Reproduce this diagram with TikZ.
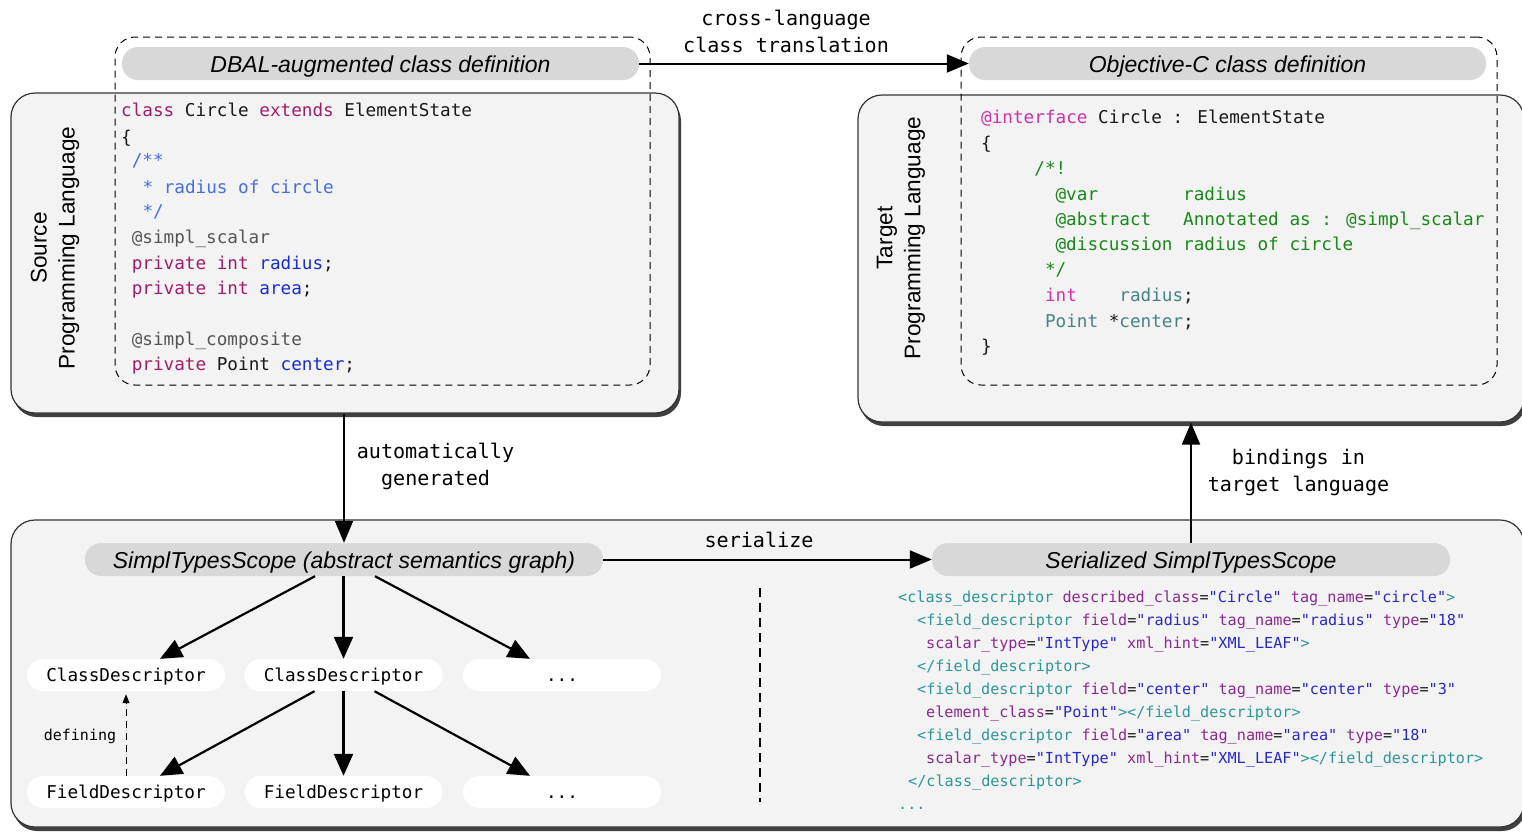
\documentclass[tikz,border=0pt]{standalone}
\usepackage{fontspec}
\setmainfont{Liberation Sans}
\newfontfamily\codefont{DejaVu Sans Mono}
\usetikzlibrary{shadows,arrows.meta}
\definecolor{boxfill}{HTML}{F3F3F3}
\definecolor{pillfill}{HTML}{D8D8D8}
\definecolor{kwc}{RGB}{160,30,105}
\definecolor{idc}{RGB}{25,45,205}
\definecolor{cmc}{RGB}{70,110,225}
\definecolor{anc}{RGB}{85,85,85}
\definecolor{mac}{RGB}{205,50,170}
\definecolor{grc}{RGB}{25,135,25}
\definecolor{tec}{RGB}{70,130,135}
\definecolor{tgc}{RGB}{45,150,150}
\definecolor{atc}{RGB}{140,40,145}
\definecolor{vac}{RGB}{40,40,195}
\newcommand{\cKw}[1]{\textcolor{kwc}{#1}}
\newcommand{\cId}[1]{\textcolor{idc}{#1}}
\newcommand{\cCm}[1]{\textcolor{cmc}{#1}}
\newcommand{\cAn}[1]{\textcolor{anc}{#1}}
\newcommand{\cMa}[1]{\textcolor{mac}{#1}}
\newcommand{\cGr}[1]{\textcolor{grc}{#1}}
\newcommand{\cTe}[1]{\textcolor{tec}{#1}}
\newcommand{\cTg}[1]{\textcolor{tgc}{#1}}
\newcommand{\cAt}[1]{\textcolor{atc}{#1}}
\newcommand{\cVa}[1]{\textcolor{vac}{#1}}
\begin{document}
\begin{tikzpicture}[x=1pt,y=-1pt,
  outerbox/.style={draw=black!80, line width=1.2pt, fill=boxfill, rounded corners=24pt,
    drop shadow={shadow xshift=2pt, shadow yshift=-4pt, opacity=0.75, fill=black}},
  dashbox/.style={draw=black, line width=1pt, dash pattern=on 7pt off 5pt, rounded corners=20pt},
  pill/.style={fill=pillfill, rounded corners=16pt, minimum width=517pt, minimum height=33pt,
    inner sep=0pt, text height=17pt, text depth=0pt, font=\fontsize{23}{27}\selectfont\itshape},
  wnode/.style={fill=white, rounded corners=16pt, minimum width=198pt, minimum height=32pt,
    inner sep=0pt, text height=14pt, text depth=1pt, font=\codefont\fontsize{17.66}{20}\selectfont},
  codeline/.style={anchor=west, inner sep=0pt, text height=14pt, text depth=1pt,
    font=\codefont\fontsize{17.66}{20}\selectfont, text=black!90},
  xmlline/.style={anchor=west, inner sep=0pt, text height=14pt, text depth=0.5pt,
    font=\codefont\fontsize{15.17}{18}\selectfont, text=black!90},
  lbl/.style={align=center, inner sep=0pt, font=\codefont\fontsize{20.1}{27}\selectfont},
  sidelbl/.style={rotate=90, align=center, inner sep=0pt, font=\fontsize{22.6}{28}\selectfont},
  bigarrow/.style={line width=2pt, -{Triangle[length=22pt,width=18pt]}},
  treearrow/.style={line width=2.2pt, -{Triangle[length=22pt,width=19pt]}}
]
\useasboundingbox (0,0) rectangle (1522,833);

% outer boxes
\node[outerbox, minimum width=668pt, minimum height=320pt] (src) at (345,253) {};
\node[outerbox, minimum width=666pt, minimum height=327pt] (tgt) at (1191,258.5) {};
\node[outerbox, minimum width=1513pt, minimum height=307pt] (bot) at (767.5,673.5) {};

% dashed boxes
\node[dashbox, minimum width=535pt, minimum height=348pt] (dsrc) at (382.5,211) {};
\node[dashbox, minimum width=536pt, minimum height=348pt] (dtgt) at (1229,211) {};

% pills
\node[pill] (dbal) at (380.5,63.5) {DBAL-augmented class definition};
\node[pill] (objc) at (1227.5,63.5) {Objective-C class definition};
\node[pill, minimum width=518pt] (sts) at (344,559.5) {SimplTypesScope (abstract semantics graph)};
\node[pill, minimum width=518pt] (ser) at (1191,559.5) {Serialized SimplTypesScope};

% side labels
\node[sidelbl] (srclbl) at (55,248) {Source\\Programming Language};
\node[sidelbl] (tgtlbl) at (901,238) {Target\\Programming Language};

% source code
\node[codeline] (s1) at (121,110) {\cKw{class} Circle \cKw{extends} ElementState};
\node[codeline] (s2) at (121,137) {\{};
\node[codeline] (s3) at (131.6,160) {\cCm{/**}};
\node[codeline] (s4) at (142.3,187) {\cCm{* radius of circle}};
\node[codeline] (s5) at (142.3,211) {\cCm{*/}};
\node[codeline] (s6) at (131.6,237) {\cAn{@simpl\_scalar}};
\node[codeline] (s7) at (131.6,263) {\cKw{private int} \cId{radius};};
\node[codeline] (s8) at (131.6,288) {\cKw{private int} \cId{area};};
\node[codeline] (s9) at (131.6,339) {\cAn{@simpl\_composite}};
\node[codeline] (s10) at (131.6,364) {\cKw{private} Point \cId{center};};

% target code
\node[codeline] (t1) at (981,117) {\cMa{@interface} Circle : ElementState};
\node[codeline] (t2) at (981,143) {\{};
\node[codeline] (t3) at (1034.2,168) {\cGr{/*!}};
\node[codeline] (t4) at (1055.4,194) {\cGr{@var~~~~~~~~radius}};
\node[codeline] (t5) at (1055.4,219) {\cGr{@abstract~~~Annotated as : @simpl\_scalar}};
\node[codeline] (t6) at (1055.4,244) {\cGr{@discussion radius of circle}};
\node[codeline] (t7) at (1044.8,269) {\cGr{*/}};
\node[codeline] (t8) at (1044.8,295) {\cMa{int}~~~~\cTe{radius};};
\node[codeline] (t9) at (1044.8,321) {\cTe{Point} *\cTe{center};};
\node[codeline] (t10) at (981,346) {\}};

% xml
\node[xmlline] (x1) at (898,596) {\cTg{<class\_descriptor} \cAt{described\_class}=\cVa{"Circle"} \cAt{tag\_name}=\cVa{"circle"}\cTg{>}};
\node[xmlline] (x2) at (917,619) {\cTg{<field\_descriptor} \cAt{field}=\cVa{"radius"} \cAt{tag\_name}=\cVa{"radius"} \cAt{type}=\cVa{"18"}};
\node[xmlline] (x3) at (926,642) {\cAt{scalar\_type}=\cVa{"IntType"} \cAt{xml\_hint}=\cVa{"XML\_LEAF"}\cTg{>}};
\node[xmlline] (x4) at (917,665) {\cTg{</field\_descriptor>}};
\node[xmlline] (x5) at (917,688) {\cTg{<field\_descriptor} \cAt{field}=\cVa{"center"} \cAt{tag\_name}=\cVa{"center"} \cAt{type}=\cVa{"3"}};
\node[xmlline] (x6) at (926,711) {\cAt{element\_class}=\cVa{"Point"}\cTg{></field\_descriptor>}};
\node[xmlline] (x7) at (917,734) {\cTg{<field\_descriptor} \cAt{field}=\cVa{"area"} \cAt{tag\_name}=\cVa{"area"} \cAt{type}=\cVa{"18"}};
\node[xmlline] (x8) at (926,757) {\cAt{scalar\_type}=\cVa{"IntType"} \cAt{xml\_hint}=\cVa{"XML\_LEAF"}\cTg{></field\_descriptor>}};
\node[xmlline] (x9) at (908,780) {\cTg{</class\_descriptor>}};
\node[xmlline] (x10) at (898,803) {\cTg{...}};

% white nodes
\node[wnode] (cd1) at (126,675) {ClassDescriptor};
\node[wnode] (cd2) at (343.5,675) {ClassDescriptor};
\node[wnode] (dots1) at (562,675) {...};
\node[wnode] (fd1) at (126,792) {FieldDescriptor};
\node[wnode] (fd2) at (343.5,792) {FieldDescriptor};
\node[wnode] (dots2) at (562,792) {...};

% main arrows
\draw[bigarrow] (dbal.east) -- (objc.west);
\node[lbl] (crosslbl) at (786,31.5) {cross-language\\class translation};
\draw[bigarrow] (sts.north |- src.south) -- (sts.north);
\node[lbl] (autolbl) at (435.5,466) {automatically\\generated};
\draw[bigarrow] (sts.east) -- (ser.west);
\node[lbl] (serlbl) at (759,540) {serialize};
\draw[bigarrow] (ser.north) -- (ser.north |- tgt.south);
\node[lbl] (bindlbl) at (1298.5,472.5) {bindings in\\target language};

% tree arrows
\draw[treearrow] ([xshift=-29pt]sts.south) -- ([xshift=34pt]cd1.north);
\draw[treearrow] (sts.south -| cd2.north) -- (cd2.north);
\draw[treearrow] ([xshift=31pt]sts.south) -- ([xshift=-32pt]dots1.north);
\draw[treearrow] ([xshift=-29pt]cd2.south) -- ([xshift=34pt]fd1.north);
\draw[treearrow] (cd2.south) -- (fd2.north);
\draw[treearrow] ([xshift=31pt]cd2.south) -- ([xshift=-32pt]dots2.north);

% defining
\draw[line width=1pt, dash pattern=on 7pt off 5pt, -{Triangle[length=9pt,width=7pt]}] (fd1.north) -- ([yshift=-3pt]cd1.south);
\node[inner sep=0pt, font=\codefont\fontsize{15}{18}\selectfont] (deflbl) at (80,736) {defining};

% separator
\coordinate (septop) at (760,588);
\coordinate (sepbot) at (760,802);
\draw[line width=2pt, dash pattern=on 9pt off 6pt] (septop) -- (sepbot);
\end{tikzpicture}
\end{document}
